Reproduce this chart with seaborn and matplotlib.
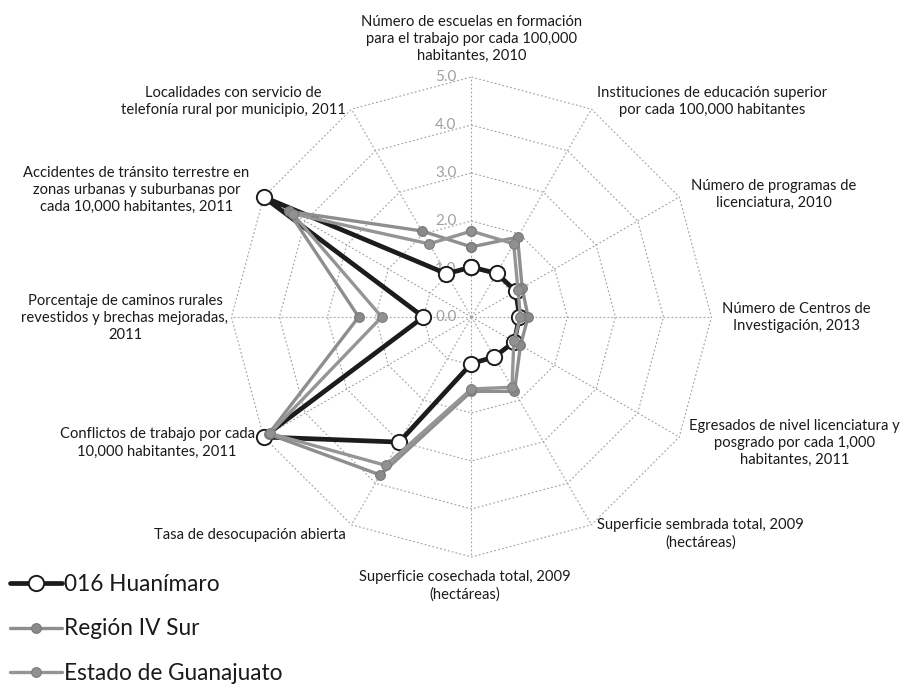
import numpy as np
import matplotlib
matplotlib.use("Agg")
import matplotlib.pyplot as plt
import seaborn as sns

categories = [
    "Número de escuelas en formación\npara el trabajo por cada 100,000\nhabitantes, 2010",
    "Instituciones de educación superior\npor cada 100,000 habitantes",
    "Número de programas de\nlicenciatura, 2010",
    "Número de Centros de\nInvestigación, 2013",
    "Egresados de nivel licenciatura y\nposgrado por cada 1,000\nhabitantes, 2011",
    "Superficie sembrada total, 2009\n(hectáreas)",
    "Superficie cosechada total, 2009\n(hectáreas)",
    "Tasa de desocupación abierta",
    "Conflictos de trabajo por cada\n10,000 habitantes, 2011",
    "Porcentaje de caminos rurales\nrevestidos y brechas mejoradas,\n2011",
    "Accidentes de tránsito terrestre en\nzonas urbanas y suburbanas por\ncada 10,000 habitantes, 2011",
    "Localidades con servicio de\ntelefonía rural por municipio, 2011",
]
huanimaro = [1.04, 1.05, 1.07, 1.00, 1.03, 0.96, 0.97, 3.01, 5.00, 1.00, 5.00, 1.04]
region_iv_sur = [1.46, 1.92, 1.22, 1.18, 1.18, 1.79, 1.55, 3.80, 4.88, 2.35, 4.40, 2.07]
estado_gto = [1.79, 1.76, 1.12, 1.02, 1.02, 1.69, 1.50, 3.57, 4.85, 1.87, 4.30, 1.76]
series_names = ["016 Huanímaro", "Región IV Sur", "Estado de Guanajuato"]
tick_values = [0.0, 1.0, 2.0, 3.0, 4.0, 5.0]

sns.set_style("white")
plt.rcParams["font.family"] = ["Lato", "DejaVu Sans"]

fig = plt.figure(figsize=(9.01, 6.85), dpi=100)
ax = fig.add_axes([0.2569, 0.1869, 0.5327, 0.7007], projection="polar")
ax.set_theta_zero_location("N")
ax.set_theta_direction(-1)
ax.set_ylim(0, 5)
ax.grid(False)
ax.spines["polar"].set_visible(False)
ax.set_xticks([])
ax.set_yticks([])
ax.patch.set_visible(False)

n = len(categories)
theta = np.arange(n) * 2 * np.pi / n
theta_c = np.append(theta, theta[0])

grid_kw = dict(color="#a0a0a0", lw=0.8, ls=(0, (1.6, 2.0)), clip_on=False, zorder=1)
for lv in tick_values[1:]:
    ax.plot(theta_c, [lv] * (n + 1), **grid_kw)
for t in theta:
    ax.plot([t, t], [0, tick_values[-1]], **grid_kw)

for v in tick_values:
    ax.annotate(f"{v:.1f}", xy=(0, v), xytext=(-15, 0), textcoords="offset pixels",
                ha="right", va="center", color="#a0a0a0", fontsize=11, zorder=2,
                annotation_clip=False)

def closed(vals):
    return list(vals) + [vals[0]]

sns.lineplot(x=theta_c, y=closed(huanimaro), sort=False, estimator=None, ax=ax,
             color="#1c1c1c", lw=3.4, marker="o", markersize=11,
             markerfacecolor="white", markeredgecolor="#1c1c1c", markeredgewidth=1.4,
             label=series_names[0], clip_on=False, zorder=4)
sns.lineplot(x=theta_c, y=closed(region_iv_sur), sort=False, estimator=None, ax=ax,
             color="#8e8e8e", lw=2.4, marker="o", markersize=7,
             markerfacecolor="#8a8a8a", markeredgecolor="#777777", markeredgewidth=0.8,
             label=series_names[1], clip_on=False, zorder=5)
sns.lineplot(x=theta_c, y=closed(estado_gto), sort=False, estimator=None, ax=ax,
             color="#959595", lw=2.4, marker="o", markersize=7,
             markerfacecolor="#919191", markeredgecolor="#7c7c7c", markeredgewidth=0.8,
             label=series_names[2], clip_on=False, zorder=6)

# category labels
label_specs = [
    ("center", "bottom", (0, 14)),
    ("left", "bottom", (6, -8)),
    ("left", "center", (12, 3)),
    ("left", "center", (11, -1)),
    ("left", "center", (10, -6)),
    ("left", "top", (6, 7)),
    ("center", "top", (-7, -13)),
    ("right", "top", (-6, -3)),
    ("right", "center", (-9, -6)),
    ("right", "center", (-3, -1)),
    ("right", "center", (-14, 7)),
    ("right", "bottom", (-6, -8)),
]
for t, lab, (ha, va, off) in zip(theta, categories, label_specs):
    ax.annotate(lab, xy=(t, tick_values[-1]), xytext=off, textcoords="offset pixels",
                ha=ha, va=va, multialignment="center", fontsize=10.6,
                color="#1a1a1a", linespacing=1.27, annotation_clip=False)

leg = ax.legend(loc="center left", bbox_to_anchor=(0.011, 0.0818),
                bbox_transform=fig.transFigure, frameon=False, fontsize=16.3,
                handlelength=2.3, handletextpad=0.1, labelspacing=1.02,
                borderpad=0, borderaxespad=0)
for txt in leg.get_texts():
    txt.set_color("#1a1a1a")

fig.savefig("out.png", dpi=100)
